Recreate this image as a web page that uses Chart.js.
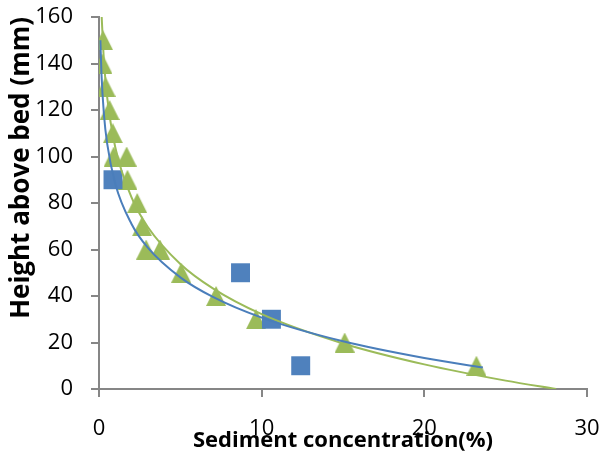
<!DOCTYPE html>
<html>
<head>
<meta charset="utf-8">
<script src="https://cdn.jsdelivr.net/npm/chart.js@4.4.1/dist/chart.umd.min.js"></script>
<style>
  html, body { margin: 0; padding: 0; background: #fff; }
  #wrap { width: 603px; height: 454px; }
</style>
</head>
<body>
<div id="wrap"><canvas id="chart" width="603" height="454"></canvas></div>
<script>
// measured points (sediment concentration %, height mm)
const squareX = [0.86, 8.7, 10.6, 12.4];
const squareY = [90, 50, 30, 10];

const triangleX = [0.25, 0.2, 0.4, 0.65, 0.85, 0.9, 1.7, 1.75, 2.35, 2.65, 2.9, 3.75, 5.05, 7.2, 9.65, 15.1, 23.2];
const triangleY = [150, 140, 130, 120, 110, 100, 100, 90, 80, 70, 60, 60, 50, 40, 30, 20, 10];

// trend curves
const blueCurveX = [0.085, 0.15, 0.3, 0.5, 1, 2, 3, 5, 7, 10, 15, 20, 23.6];
const blueCurveY = [150, 135.8, 118.4, 105.6, 88.3, 71, 60.8, 48, 39.6, 30.7, 20.5, 13.3, 9.2];

const greenCurveX = [0.165, 0.3, 0.5, 1, 2, 3, 5, 7, 10, 15, 20, 25, 28.1];
const greenCurveY = [160, 141.5, 125.6, 104, 82.4, 69.7, 53.8, 43.3, 32.2, 19.6, 10.6, 3.6, 0];

const xTicks = [0, 10, 20, 30];
const yTicks = [0, 20, 40, 60, 80, 100, 120, 140, 160];

const toPoints = (xs, ys) => xs.map((x, i) => ({ x: x, y: ys[i] }));

const axisGray = "#868686";
const fontFamily = "'Open Sans', 'Liberation Sans', sans-serif";

// excel style triangle marker, centred on its box
const triMarker = document.createElement("canvas");
triMarker.width = 20;
triMarker.height = 20;
const tctx = triMarker.getContext("2d");
tctx.fillStyle = "#9BBB59";
tctx.beginPath();
tctx.moveTo(10, 0);
tctx.lineTo(20, 20);
tctx.lineTo(0, 20);
tctx.closePath();
tctx.fill();

const ctx = document.getElementById("chart").getContext("2d");
new Chart(ctx, {
  type: "scatter",
  data: {
    datasets: [
      {
        data: toPoints(blueCurveX, blueCurveY),
        showLine: true,
        borderColor: "#4A7EBB",
        borderWidth: 2,
        pointRadius: 0,
        cubicInterpolationMode: "monotone",
      },
      {
        data: toPoints(greenCurveX, greenCurveY),
        showLine: true,
        borderColor: "#9BBB59",
        borderWidth: 2,
        pointRadius: 0,
        cubicInterpolationMode: "monotone",
      },
      {
        data: toPoints(squareX, squareY),
        pointStyle: "rect",
        pointRadius: 13.4,
        backgroundColor: "#4F81BD",
        borderWidth: 0,
      },
      {
        data: toPoints(triangleX, triangleY),
        pointStyle: triMarker,
        pointRadius: 10,
        backgroundColor: "#9BBB59",
        borderWidth: 0,
      },
    ],
  },
  options: {
    responsive: false,
    animation: false,
    layout: {
      padding: 0,
    },
    plugins: {
      legend: { display: false },
      tooltip: { enabled: false },
    },
    scales: {
      x: {
        type: "linear",
        min: 0,
        max: 30,
        afterBuildTicks: (scale) => {
          scale.ticks = xTicks.map((v) => ({ value: v }));
        },
        // pin the plot area: bottom at 389, right at 587
        afterFit: (scale) => {
          scale.height = 65;
          scale.paddingLeft = 0;
          scale.paddingRight = 16;
        },
        grid: {
          display: true,
          drawOnChartArea: false,
          drawTicks: true,
          tickLength: 8,
          color: axisGray,
          lineWidth: 2,
        },
        border: { color: axisGray, width: 2 },
        ticks: {
          padding: 19,
          color: "#000",
          font: { family: fontFamily, size: 22 },
        },
        title: {
          display: true,
          text: "Sediment concentration(%)",
          color: "#000",
          padding: 0,
          font: { family: fontFamily, size: 22, weight: "bold" },
        },
      },
      y: {
        type: "linear",
        min: 0,
        max: 160,
        afterBuildTicks: (scale) => {
          scale.ticks = yTicks.map((v) => ({ value: v }));
        },
        // pin the plot area: left at 99, top at 17
        afterFit: (scale) => {
          scale.width = 99;
          scale.paddingTop = 17;
          scale.paddingBottom = 0;
        },
        grid: {
          display: true,
          drawOnChartArea: false,
          drawTicks: true,
          tickLength: 8,
          color: axisGray,
          lineWidth: 2,
        },
        border: { color: axisGray, width: 2 },
        ticks: {
          padding: 18,
          color: "#000",
          font: { family: fontFamily, size: 22 },
        },
        title: {
          display: true,
          text: "Height above bed (mm)",
          color: "#000",
          align: "end",
          padding: { top: 9, bottom: 0 },
          font: { family: fontFamily, size: 26, weight: "bold", lineHeight: 1 },
        },
      },
    },
  },
});
</script>
</body>
</html>
